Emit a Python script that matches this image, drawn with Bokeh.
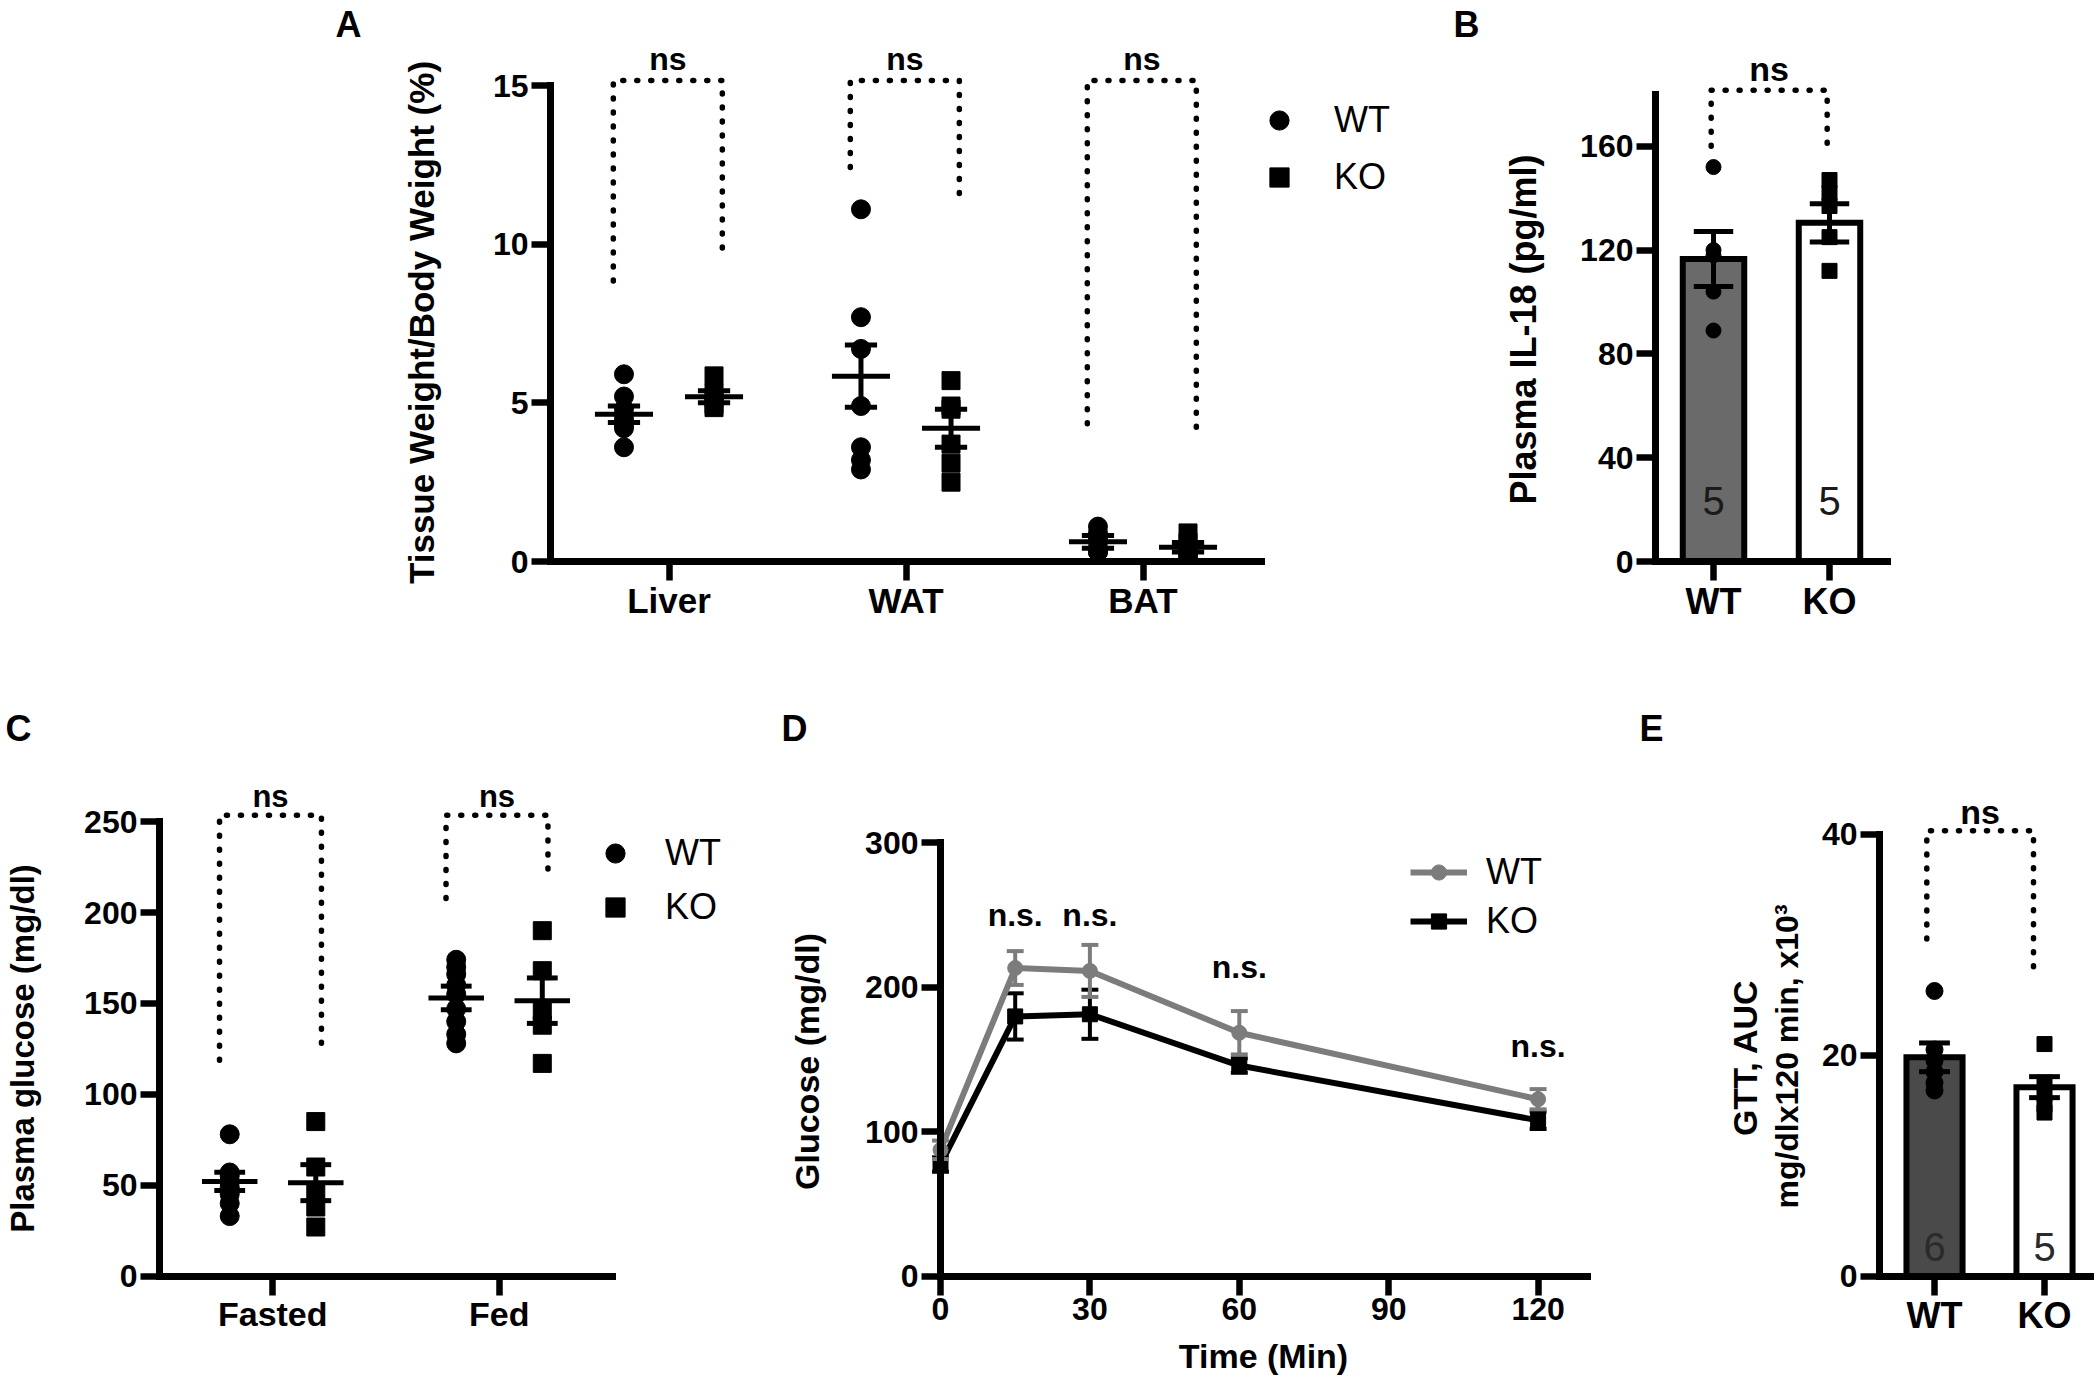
import math
from bokeh.plotting import figure
from bokeh.layouts import column, row
from bokeh.models import FixedTicker, Legend, LegendItem, Label
from bokeh.embed import file_html
from bokeh.resources import INLINE
from bokeh.core.properties import value

FONT = "Liberation Sans"

# ---------------- data ----------------
# Panel A: tissue weight / body weight (%)
tissues = ["Liver", "WAT", "BAT"]
liver_wt = [5.9, 5.2, 4.8, 4.5, 4.3, 4.2, 3.6]
liver_ko = [5.85, 5.3, 5.15, 4.95, 4.85]
wat_wt = [11.1, 7.7, 6.7, 4.9, 3.6, 3.2, 2.9]
wat_ko = [5.7, 4.9, 4.8, 3.7, 3.1, 2.5]
bat_wt = [1.1, 0.9, 0.7, 0.6, 0.4, 0.3, 0.3]
bat_ko = [0.9, 0.6, 0.4, 0.3, 0.2, 0.2]
tissue_wt_mean = [4.64, 5.84, 0.62]
tissue_wt_sem = [0.26, 0.98, 0.2]
tissue_ko_mean = [5.19, 4.2, 0.45]
tissue_ko_sem = [0.19, 0.6, 0.15]
tissue_bracket_top = 15.16
tissue_bracket_left = [8.84, 12.42, 4.34]
tissue_bracket_right = [9.74, 11.56, 3.88]
tissue_yticks = [0, 5, 10, 15]

# Panel B: plasma IL-18 (pg/ml)
genotypes = ["WT", "KO"]
il18_wt = [152, 120, 118, 104, 89]
il18_ko = [147, 142, 137, 125, 112]
il18_mean = [116.6, 130.5]
il18_sem = [10.6, 7.4]
il18_n = ["5", "5"]
il18_bracket_top = 181.6
il18_bracket_bottom = [160, 160]
il18_yticks = [0, 40, 80, 120, 160]

# Panel C: plasma glucose (mg/dl)
conditions = ["Fasted", "Fed"]
fasted_wt = [78, 57, 55, 52, 49, 45, 40, 33]
fasted_ko = [85, 60, 46, 38, 27]
fed_wt = [174, 170, 166, 160, 155, 147, 140, 133, 128]
fed_ko = [190, 168, 146, 138, 117]
glu_wt_mean = [52.1, 153.0]
glu_wt_sem = [5.0, 6.5]
glu_ko_mean = [51.4, 151.5]
glu_ko_sem = [9.9, 12.5]
glu_bracket_top = 253.5
glu_bracket_left = [118.7, 207.7]
glu_bracket_right = [126.3, 223.4]
glu_yticks = [0, 50, 100, 150, 200, 250]

# Panel D: GTT glucose (mg/dl) over time (min)
gtt_time = [0, 15, 30, 60, 120]
gtt_wt = [87.4, 213.2, 211.2, 168.4, 122.4]
gtt_wt_sem = [6.4, 11.7, 18.0, 15.0, 7.0]
gtt_ko = [77.2, 179.7, 181.2, 145.7, 107.8]
gtt_ko_sem = [5.0, 16.0, 17.0, 5.0, 6.0]
gtt_ns_time = [15, 30, 60, 120]
gtt_ns_y = [250, 250, 214, 159]
gtt_xticks = [0, 30, 60, 90, 120]
gtt_yticks = [0, 100, 200, 300]

# Panel E: GTT AUC
auc_wt = [25.8, 20.5, 19.5, 18.5, 17.5, 16.8]
auc_ko = [21.0, 17.5, 16.5, 15.5, 14.8]
auc_mean = [19.8, 17.1]
auc_sem = [1.3, 0.95]
auc_n = ["6", "5"]
auc_bracket_top = 40.3
auc_bracket_bottom = [30.5, 27.2]
auc_yticks = [0, 20, 40]

# ---------------- layout constants ----------------
DOT_OFF = 0.19
MEAN_HALF = 0.1225
CAP_HALF = 0.068
GRAY_D = "#7c7c7c"


class Panel:
    """A figure whose frame fills the figure; (x0, y0) are the page pixels of data
    (0, 0), sx / sy the pixels per data unit."""

    def __init__(self, L, R, T, B, x0, sx, y0, sy):
        self.L, self.R, self.T, self.B = L, R, T, B
        self.x0, self.sx, self.y0, self.sy = x0, sx, y0, sy
        xr = ((L - x0) / sx, (R - x0) / sx)
        yr = ((y0 - B) / sy, (y0 - T) / sy)
        p = figure(width=R - L, height=B - T, x_range=xr, y_range=yr, title=None,
                   output_backend="svg", toolbar_location=None, min_border=0,
                   min_border_left=0, min_border_right=0, min_border_top=0,
                   min_border_bottom=0)
        p.outline_line_color = None
        p.xgrid.visible = False
        p.ygrid.visible = False
        p.background_fill_color = "white"
        p.border_fill_color = "white"
        p.xaxis[0].fixed_location = 0
        p.yaxis[0].fixed_location = 0
        self.p = p

    def dx(self, X):
        return (X - self.x0) / self.sx

    def dy(self, Y):
        return (self.y0 - Y) / self.sy

    def label(self, X, Y, text, size, bold=True, angle=0.0):
        self.p.add_layout(Label(x=self.dx(X), y=self.dy(Y), text=text,
                                text_font=FONT, text_font_size=f"{size}px",
                                text_font_style="bold" if bold else "normal",
                                text_align="center", text_baseline="middle",
                                text_color="black", angle=angle))

    def legend(self, items, X_left, Y_bottom, gw, gh, spacing, standoff):
        lg = Legend(items=items, location=(X_left - self.L, self.B - Y_bottom),
                    glyph_width=gw, glyph_height=gh, spacing=spacing,
                    label_standoff=standoff, padding=0, margin=0,
                    border_line_color=None, background_fill_alpha=0,
                    label_text_font=FONT, label_text_font_size="36px",
                    label_text_color="black")
        self.p.add_layout(lg)


def style_axis(ax, ticks, bounds, tick_size=32, standoff=3, overrides=None):
    ax.ticker = FixedTicker(ticks=ticks)
    ax.bounds = bounds
    ax.axis_label = None
    ax.axis_line_width = 7
    ax.axis_line_color = "black"
    ax.axis_line_cap = "square"
    ax.major_tick_line_width = 6.5
    ax.major_tick_line_color = "black"
    ax.major_tick_out = 19
    ax.major_tick_in = 0
    ax.minor_tick_line_color = None
    ax.major_label_text_font = FONT
    ax.major_label_text_font_style = "bold"
    ax.major_label_text_font_size = f"{tick_size}px"
    ax.major_label_text_color = "black"
    ax.major_label_standoff = standoff
    if overrides:
        ax.major_label_overrides = overrides


def dot_groups(p, groups, means, sems, off, marker, size):
    xs, ys = [], []
    for i, pts in enumerate(groups):
        xs += [i + 0.5 + off] * len(pts)
        ys += list(pts)
    r = p.scatter(xs, ys, marker=marker, size=size, color="black")
    cx = [i + 0.5 + off for i in range(len(means))]
    lo = [m - s for m, s in zip(means, sems)]
    hi = [m + s for m, s in zip(means, sems)]
    p.segment(x0=[c - MEAN_HALF for c in cx], y0=means,
              x1=[c + MEAN_HALF for c in cx], y1=means, line_width=5, color="black")
    p.segment(x0=cx, y0=lo, x1=cx, y1=hi, line_width=5, color="black")
    for yy in (lo, hi):
        p.segment(x0=[c - CAP_HALF for c in cx], y0=yy,
                  x1=[c + CAP_HALF for c in cx], y1=yy, line_width=5, color="black")
    return r


def brackets(p, centers, top, left_bottom, right_bottom, l_off, r_off,
             txt, txt_y, txt_size):
    xs = [[c + l_off, c + l_off, c + r_off, c + r_off] for c in centers]
    ys = [[lb, top, top, rb] for lb, rb in zip(left_bottom, right_bottom)]
    p.multi_line(xs, ys, line_width=5.5, line_dash="1 13", line_cap="round",
                 line_join="round", color="black")
    p.text(x=[c + (l_off + r_off) / 2 for c in centers], y=[txt_y] * len(centers),
           text=[txt] * len(centers), text_font=value(FONT), text_font_style="bold",
           text_font_size=txt_size, text_align="center", text_baseline="middle",
           text_color="black")


def bars(p, means, fills, width):
    cx = [i + 0.5 for i in range(len(means))]
    p.vbar(x=cx, top=means, bottom=0, width=width, fill_color=fills,
           line_color="black", line_width=6, line_join="miter")
    return cx


def errbars(p, cx, means, sems, cap_half, color="black", lw=5):
    lo = [m - s for m, s in zip(means, sems)]
    hi = [m + s for m, s in zip(means, sems)]
    p.segment(x0=cx, y0=lo, x1=cx, y1=hi, line_width=lw, color=color)
    for yy in (lo, hi):
        p.segment(x0=[c - cap_half for c in cx], y0=yy,
                  x1=[c + cap_half for c in cx], y1=yy, line_width=lw, color=color)


VERT = math.pi / 2

# ---------------- Panel A ----------------
A = Panel(0, 1428, 0, 686, 550, 237.0, 561, 31.73)
pA = A.p
style_axis(pA.yaxis[0], tissue_yticks, (0, 15))
style_axis(pA.xaxis[0], [i + 0.5 for i in range(len(tissues))], (0, 3), tick_size=35,
           standoff=0, overrides={i + 0.5: t for i, t in enumerate(tissues)})
rA_wt = dot_groups(pA, [liver_wt, wat_wt, bat_wt], tissue_wt_mean, tissue_wt_sem,
                   -DOT_OFF, "circle", 19)
rA_ko = dot_groups(pA, [liver_ko, wat_ko, bat_ko], tissue_ko_mean, tissue_ko_sem,
                   DOT_OFF, "square", 18)
brackets(pA, [i + 0.5 for i in range(len(tissues))], tissue_bracket_top,
         tissue_bracket_left, tissue_bracket_right, -0.235, 0.225, "ns", 15.85, "32px")
A.legend([LegendItem(label="WT", renderers=[rA_wt]),
          LegendItem(label="KO", renderers=[rA_ko])], 1255, 201, 48, 48, 9, 31)
A.label(421, 322, "Tissue Weight/Body Weight (%)", 35, angle=VERT)
A.label(348, 24, "A", 36)

# ---------------- Panel B ----------------
B = Panel(1428, 2096, 0, 686, 1655, 116.0, 561, 2.595)
pB = B.p
style_axis(pB.yaxis[0], il18_yticks, (0, 180))
style_axis(pB.xaxis[0], [i + 0.5 for i in range(len(genotypes))], (0, 2), tick_size=36,
           standoff=0, overrides={i + 0.5: g for i, g in enumerate(genotypes)})
cxB = bars(pB, il18_mean, ["#6a6a6a", "white"], 0.53)
pB.scatter([cxB[0]] * len(il18_wt), il18_wt, marker="circle", size=15, color="black")
pB.scatter([cxB[1]] * len(il18_ko), il18_ko, marker="square", size=15, color="black")
errbars(pB, cxB, il18_mean, il18_sem, 0.17)
pB.text(x=cxB, y=[23.5, 23.5], text=il18_n, text_font=value(FONT),
        text_font_size="40px", text_align="center", text_baseline="middle",
        text_color="#1a1a1a")
brackets(pB, [0.5], il18_bracket_top, [il18_bracket_bottom[0]], [il18_bracket_bottom[1]],
         -0.02, 0.98, "ns", 189.8, "34px")
B.label(1523, 329, "Plasma IL-18 (pg/ml)", 36, angle=VERT)
B.label(1466, 24, "B", 36)

# ---------------- Panel C ----------------
C = Panel(0, 748, 686, 1380, 159, 226.5, 1275.6, 1.818)
pC = C.p
style_axis(pC.yaxis[0], glu_yticks, (0, 250))
style_axis(pC.xaxis[0], [i + 0.5 for i in range(len(conditions))], (0, 2), tick_size=34,
           standoff=0, overrides={i + 0.5: c for i, c in enumerate(conditions)})
rC_wt = dot_groups(pC, [fasted_wt, fed_wt], glu_wt_mean, glu_wt_sem, -DOT_OFF, "circle", 19)
rC_ko = dot_groups(pC, [fasted_ko, fed_ko], glu_ko_mean, glu_ko_sem, DOT_OFF, "square", 18)
brackets(pC, [i + 0.5 for i in range(len(conditions))], glu_bracket_top,
         glu_bracket_left, glu_bracket_right, -0.235, 0.215, "ns", 264, "31px")
C.legend([LegendItem(label="WT", renderers=[rC_wt]),
          LegendItem(label="KO", renderers=[rC_ko])], 591, 931, 48, 48, 6, 26)
C.label(22, 1048, "Plasma glucose (mg/dl)", 33, angle=VERT)
C.label(18, 728, "C", 36)

# ---------------- Panel D ----------------
D = Panel(748, 1638, 686, 1380, 940, 4.98, 1275.6, 1.445)
pD = D.p
style_axis(pD.yaxis[0], gtt_yticks, (0, 300))
style_axis(pD.xaxis[0], gtt_xticks, (0, 130), standoff=3)
errbars(pD, gtt_time, gtt_ko, gtt_ko_sem, 1.7, color="black", lw=4)
rD_kl = pD.line(gtt_time, gtt_ko, line_width=6, color="black")
rD_ks = pD.scatter(gtt_time, gtt_ko, marker="square", size=15, color="black")
errbars(pD, gtt_time, gtt_wt, gtt_wt_sem, 1.7, color=GRAY_D, lw=4)
rD_wl = pD.line(gtt_time, gtt_wt, line_width=6, color=GRAY_D)
rD_ws = pD.scatter(gtt_time, gtt_wt, marker="circle", size=15, color=GRAY_D)
pD.text(x=gtt_ns_time, y=gtt_ns_y, text=["n.s."] * len(gtt_ns_time),
        text_font=value(FONT), text_font_style="bold", text_font_size="32px",
        text_align="center", text_baseline="middle", text_color="black")
D.legend([LegendItem(label="WT", renderers=[rD_wl, rD_ws]),
          LegendItem(label="KO", renderers=[rD_kl, rD_ks])], 1410, 942, 57, 38, 7, 19)
D.label(806, 1061, "Glucose (mg/dl)", 34, angle=VERT)
D.label(1263, 1355, "Time (Min)", 34)
D.label(794, 728, "D", 36)

# ---------------- Panel E ----------------
E = Panel(1638, 2096, 686, 1380, 1879, 110.0, 1275.6, 11.05)
pE = E.p
style_axis(pE.yaxis[0], auc_yticks, (0, 40))
style_axis(pE.xaxis[0], [i + 0.5 for i in range(len(genotypes))], (0, 1.92), tick_size=36,
           standoff=0, overrides={i + 0.5: g for i, g in enumerate(genotypes)})
cxE = bars(pE, auc_mean, ["#4a4a4a", "white"], 0.51)
pE.scatter([cxE[0]] * len(auc_wt), auc_wt, marker="circle", size=17, color="black")
pE.scatter([cxE[1]] * len(auc_ko), auc_ko, marker="square", size=15, color="black")
errbars(pE, cxE, auc_mean, auc_sem, 0.14)
pE.text(x=cxE, y=[2.6, 2.6], text=auc_n, text_font=value(FONT),
        text_font_size="40px", text_align="center", text_baseline="middle",
        text_color="#2a2a2a")
brackets(pE, [0.5], auc_bracket_top, [auc_bracket_bottom[0]], [auc_bracket_bottom[1]],
         -0.07, 0.90, "ns", 42, "34px")
E.label(1744, 1057, "GTT, AUC", 34, angle=VERT)
E.label(1786, 1056, "mg/dlx120 min, x10³", 32, angle=VERT)
E.label(1651, 728, "E", 36)

layout = column(row(pA, pB), row(pC, pD, pE))
open("out.html", "w").write(file_html(layout, INLINE))
